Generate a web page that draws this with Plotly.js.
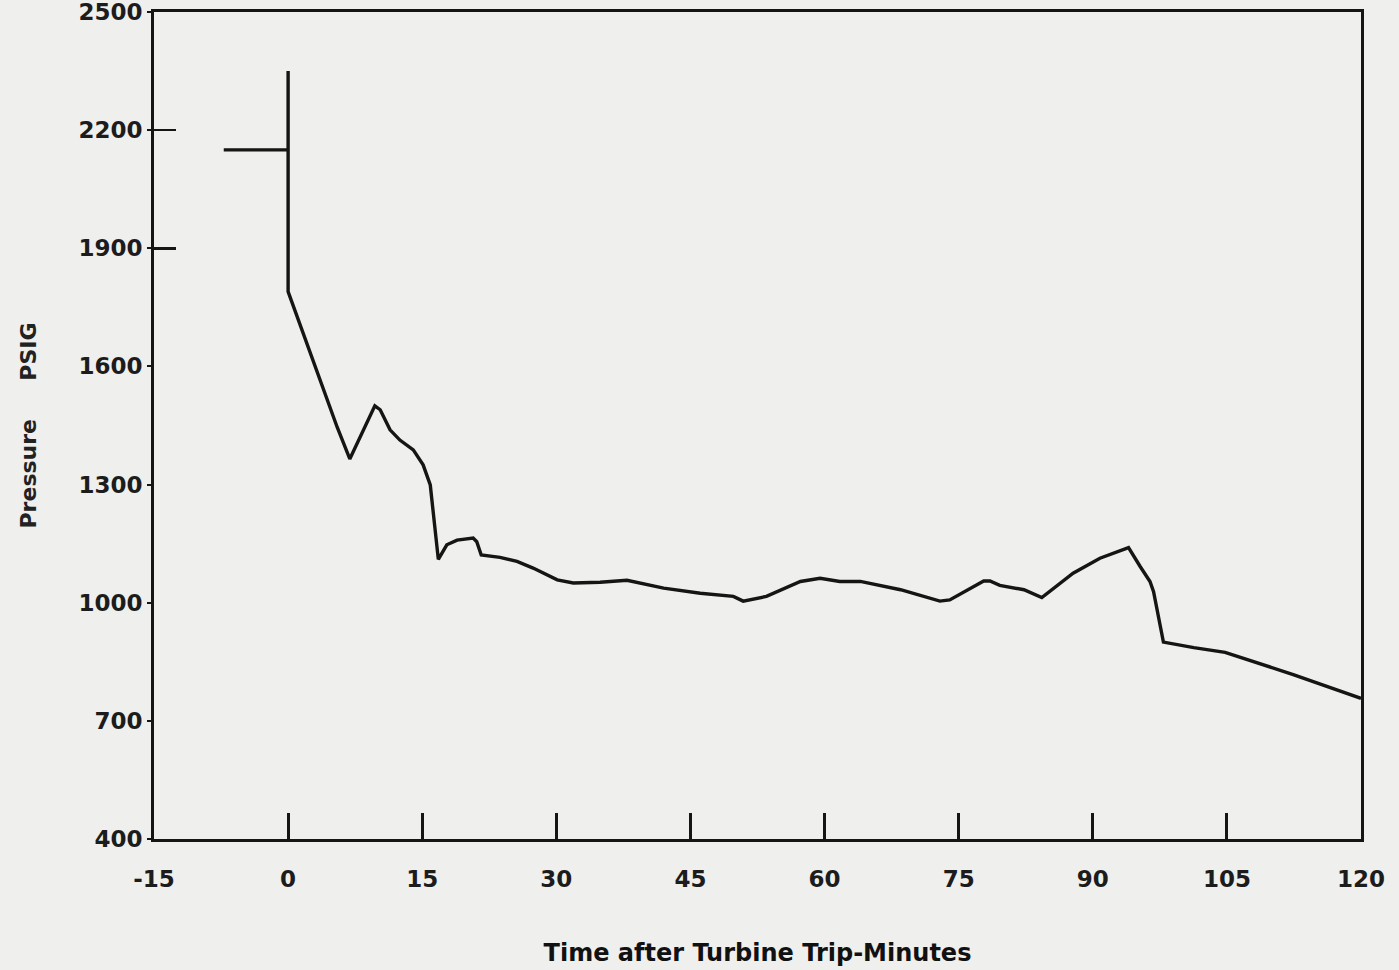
<!DOCTYPE html>
<html>
<head>
<meta charset="utf-8">
<script src="https://cdn.plot.ly/plotly-3.0.1.min.js"></script>
<style>
  html, body { margin: 0; padding: 0; background: #efefed; }
  #chart { width: 1399px; height: 970px; }
</style>
</head>
<body>
<div id="chart"></div>
<script>
// Time after turbine trip (minutes)
const timeMin = [-7.2, 0, 0, 0, 5.5, 6.9, 9.7, 10.3, 11.4, 12.5, 14.0, 15.1, 15.9, 16.25, 16.8,
  17.75, 18.9, 20.7, 21.1, 21.6, 23.7, 25.6, 27.4, 30.1, 31.9, 34.9, 37.9, 42.0, 46.1, 49.8,
  50.9, 53.5, 57.3, 59.5, 61.7, 64.0, 65.5, 68.5, 72.9, 74.0, 77.8, 78.5, 79.6, 82.3, 84.3,
  87.8, 90.8, 94.0, 95.3, 96.4, 96.8, 97.9, 101.3, 104.8, 112.5, 120];
// Pressure (PSIG)
const pressure = [2150, 2150, 2350, 1790, 1445, 1365, 1500, 1490, 1439, 1413, 1388, 1350, 1299, 1232, 1110,
  1147, 1159, 1164, 1155, 1121, 1115, 1105, 1088, 1058, 1050, 1052, 1057, 1037, 1024, 1016,
  1004, 1016, 1054, 1062, 1054, 1054, 1047, 1033, 1004, 1007, 1055, 1055, 1044, 1033, 1013,
  1075, 1113, 1140, 1092, 1054, 1028, 900, 886, 874, 817, 757];

const xTickVals = [-15, 0, 15, 30, 45, 60, 75, 90, 105, 120];
const xTickText = ['-15', '0', '15', '30', '45', '60', '75', '90', '105', '120'];
const yTickVals = [400, 700, 1000, 1300, 1600, 1900, 2200, 2500];
const yTickText = ['400', '700', '1000', '1300', '1600', '1900', '2200', '2500'];
const yLongTickVals = [1900, 2200];

const ink = '#151515';
const tickFont = { family: 'DejaVu Sans, sans-serif', size: 23, color: '#1c1c1c', weight: 'bold' };
const pad = '\u00a0'.repeat(7);

const traces = [
  {
    x: timeMin, y: pressure, type: 'scatter', mode: 'lines',
    line: { color: ink, width: 3.4 }, hoverinfo: 'x+y', showlegend: false
  },
  {
    x: [], y: [], type: 'scatter', mode: 'lines', yaxis: 'y2',
    hoverinfo: 'skip', showlegend: false
  }
];

const layout = {
  width: 1399, height: 970,
  paper_bgcolor: '#efefed', plot_bgcolor: '#efefed',
  margin: { l: 154, r: 38, t: 12, b: 131 },
  showlegend: false,
  xaxis: {
    range: [-15, 120], tickmode: 'array', tickvals: xTickVals, ticktext: xTickText,
    ticks: 'inside', ticklen: 26, tickwidth: 3, tickcolor: ink,
    showline: true, linewidth: 3, linecolor: ink, mirror: true,
    showgrid: false, zeroline: false, tickfont: tickFont, ticklabelstandoff: 17,
    ticklabeloverflow: 'allow',
    title: {
      text: 'Time after Turbine Trip-Minutes',
      font: { family: 'DejaVu Sans, sans-serif', size: 24, color: '#111', weight: 'bold' },
      standoff: 54
    }
  },
  yaxis: {
    range: [400, 2500], tickmode: 'array', tickvals: yTickVals, ticktext: yTickText,
    ticks: 'outside', ticklen: 4, tickwidth: 2, tickcolor: ink,
    showline: true, linewidth: 3, linecolor: ink, mirror: true,
    showgrid: false, zeroline: false, tickfont: tickFont, ticklabelstandoff: 0,
    ticklabeloverflow: 'allow',
    title: {
      text: pad + 'Pressure\u00a0\u00a0\u00a0\u00a0\u00a0PSIG',
      font: { family: 'DejaVu Sans, sans-serif', size: 22, color: '#222', weight: 'bold' },
      standoff: 36
    }
  },
  yaxis2: {
    overlaying: 'y', side: 'left', range: [400, 2500],
    tickmode: 'array', tickvals: yLongTickVals, showticklabels: false,
    ticks: 'inside', ticklen: 22, tickwidth: 2.5, tickcolor: ink,
    showline: false, showgrid: false, zeroline: false
  }
};

Plotly.newPlot('chart', traces, layout, { displayModeBar: false, staticPlot: true });
</script>
</body>
</html>
